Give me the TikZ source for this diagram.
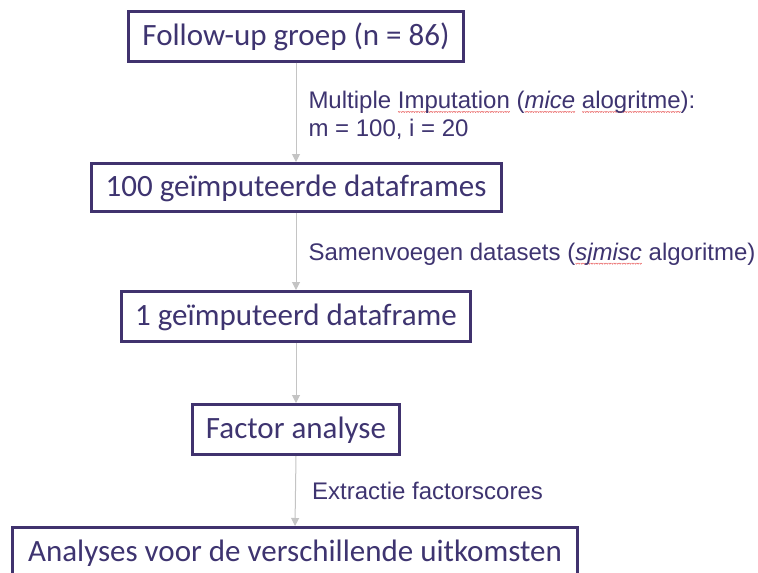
\documentclass[tikz,border=0pt]{standalone}
\usepackage{fontspec}
\setmainfont{Liberation Sans}
\newfontfamily\boxfont{Carlito}
\usetikzlibrary{arrows.meta}
\definecolor{boxline}{RGB}{64,50,110}
\definecolor{txt}{RGB}{62,52,112}
\definecolor{arr}{RGB}{196,196,196}
\definecolor{sqred}{RGB}{232,90,90}
\newsavebox\sqbox
\newcommand\redsq[1]{\sbox\sqbox{#1}\leavevmode\rlap{\xleaders\hbox{\tikz[baseline=0pt]\draw[sqred,line width=0.5pt] (0pt,-3pt) -- (1pt,-4.2pt) -- (2pt,-3pt);}\hskip\wd\sqbox}\usebox\sqbox}
\tikzset{
  flowbox/.style={draw=boxline, line width=3pt, text=txt, fill=white,
    font=\boxfont\fontsize{31}{37}\selectfont, inner sep=0pt,
    text height=23pt, text depth=5pt, anchor=center},
  lbl/.style={text=txt, font=\fontsize{24}{28}\selectfont, inner sep=0pt, anchor=base west},
  conn/.style={draw=arr, line width=1pt, -{Triangle[width=8pt,length=8pt]}}
}
\begin{document}
\begin{tikzpicture}[x=1pt,y=-1pt]
\useasboundingbox (0,0) rectangle (758,573);
\clip (0,0) rectangle (758,573);
\fill[white] (0,0) rectangle (758,573);

\node[flowbox, minimum width=335pt, minimum height=50pt] (b1) at (296,36) {Follow-up groep (n = 86)};
\node[flowbox, minimum width=410pt, minimum height=48pt] (b2) at (296,187.5) {100 geïmputeerde dataframes};
\node[flowbox, minimum width=349pt, minimum height=50pt] (b3) at (296,316.5) {1 geïmputeerd dataframe};
\node[flowbox, minimum width=207pt, minimum height=50pt] (b4) at (296,429.5) {Factor analyse};
\node[flowbox, minimum width=565pt, minimum height=50pt] (b5) at (295,552.5) {Analyses voor de verschillende uitkomsten};

\draw[conn] (b1.south) -- (b2.north);
\draw[conn] (b2.south) -- (b3.north);
\draw[conn] (b3.south) -- (b4.north);
\draw[conn] (b4.south) -- (b5.north);

\node[lbl] (l1) at (308.3,108.3) {Multiple \redsq{Imputation} (\redsq{\textit{mice}} \redsq{alogritme}):};
\node[lbl] (l1b) at (308.3,136) {m = 100, i = 20};
\node[lbl] (l2) at (308.3,260) {Samenvoegen datasets (\redsq{\textit{sjmisc}} algoritme)};
\node[lbl] (l3) at (312,499.5) {Extractie factorscores};
\end{tikzpicture}
\end{document}
